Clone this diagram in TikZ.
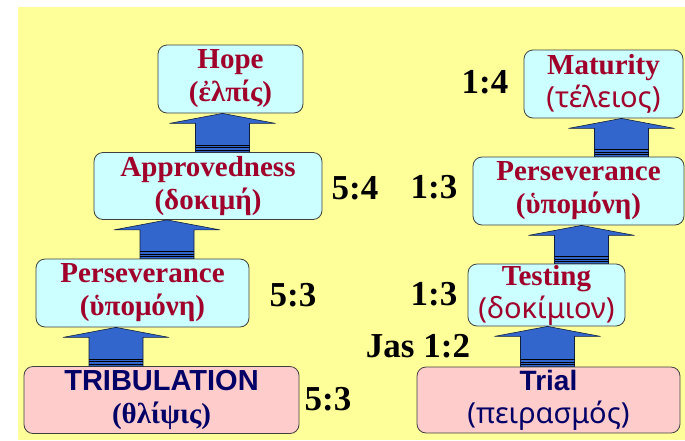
\documentclass[tikz,border=0pt]{standalone}
\usepackage{fontspec}
\setmainfont{Liberation Serif}
\newfontfamily\grsans{Noto Sans}
\newfontfamily\arialsans{Liberation Sans}
\usetikzlibrary{calc}
\definecolor{FondoAmarillo}{HTML}{FFFF99}
\definecolor{CajaCian}{HTML}{CCFFFF}
\definecolor{CajaRosa}{HTML}{FFCCCC}
\definecolor{BordeCaja}{HTML}{404040}
\definecolor{TextoRojo}{HTML}{A0002A}
\definecolor{TextoAzul}{HTML}{000066}
\definecolor{FlechaAzul}{HTML}{3366CC}
\tikzset{
    caja/.style={
        draw=BordeCaja, line width=0.8pt, rounded corners=9pt,
        inner sep=0pt, align=center,
        font=\fontsize{29}{33}\selectfont\bfseries
    },
    caja alta/.style={caja, fill=CajaCian, text=TextoRojo},
    caja base/.style={caja, fill=CajaRosa, text=TextoAzul},
    razon/.style={anchor=base, font=\fontsize{35}{38}\selectfont\bfseries}
}
% Flecha gruesa: #1 eje x, #2 nodo de abajo, #3 nodo de arriba
\newcommand{\flechagruesa}[3]{
    \coordinate (pie) at (#1,0 |- #2.north);
    \coordinate (punta) at (#1,0 |- #3.south);
    \filldraw[fill=FlechaAzul, draw=black!70!FlechaAzul, line width=0.6pt]
        (punta) -- ++(53,10) -- ++(-26,0)
        -- ($(pie)+(27,0)$) -- ($(pie)+(-27,0)$)
        -- ($(punta)+(-27,10)$) -- ++(-26,0) -- cycle;
    \foreach \d in {7,4.5,2}
        \draw[line width=0.9pt] ($(pie)+(-27,-\d)$) -- ($(pie)+(27,-\d)$);
}

\begin{document}
\begin{tikzpicture}[x=1pt, y=-1pt]

% Fondo
\useasboundingbox (0,0) rectangle (685,440);
\fill[white] (0,0) rectangle (685,440);
\fill[FondoAmarillo] (18,7) rectangle (685,440);

% Columna izquierda
\node[caja alta, minimum width=145, minimum height=68] (Hope) at (230.5,79)
    {Hope\\(ἐλπίς)};
\node[caja alta, minimum width=228, minimum height=67] (Appr) at (208,186)
    {Approvedness\\(δοκιμή)};
\node[caja alta, minimum width=213, minimum height=68] (PerL) at (142.5,293)
    {Perseverance\\(ὑπομόνη)};
\node[caja base, minimum width=275, minimum height=67] (Trib) at (161.5,400)
    {{\arialsans TRIBULATION}\\(θλίψις)};

% Columna derecha
\node[caja alta, minimum width=159, minimum height=68] (Mat) at (603.5,84)
    {Maturity\\{\grsans\mdseries\fontsize{29}{33}\selectfont(τέλειος)}};
\node[caja alta, minimum width=211, minimum height=68] (PerR) at (578.5,191)
    {Perseverance\\(ὑπομόνη)};
\node[caja alta, minimum width=157, minimum height=62] (Test) at (546.5,295)
    {Testing\\{\grsans\mdseries\fontsize{29}{33}\selectfont(δοκίμιον)}};
\node[caja base, minimum width=263, minimum height=66] (Trial) at (548.5,400)
    {{\arialsans\fontsize{28}{33}\selectfont Trial}\\{\grsans\mdseries\fontsize{29}{33}\selectfont(πειρασμός)}};

% Flechas entre cajas
\flechagruesa{222.5}{Appr}{Hope}
\flechagruesa{167}{PerL}{Appr}
\flechagruesa{116}{Trib}{PerL}
\flechagruesa{621.5}{PerR}{Mat}
\flechagruesa{581.5}{Test}{PerR}
\flechagruesa{547.5}{Trial}{Test}

% Referencias
\node[razon] (rA) at (355,199) {5:4};
\node[razon] (rB) at (293,306) {5:3};
\node[razon] (rC) at (328,410) {5:3};
\node[razon] (rD) at (485,93) {1:4};
\node[razon] (rE) at (434,198) {1:3};
\node[razon] (rF) at (434,305) {1:3};
\node[razon] (rG) at (418,357) {Jas 1:2};

\end{tikzpicture}
\end{document}
